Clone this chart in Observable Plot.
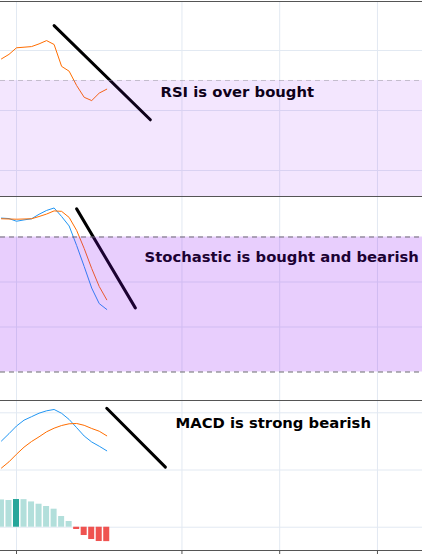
<!DOCTYPE html>
<html><head><meta charset="utf-8">
<script src="https://cdn.jsdelivr.net/npm/d3@7"></script>
<script src="https://cdn.jsdelivr.net/npm/@observablehq/plot@0.6"></script>
<style>
html,body{margin:0;padding:0;background:#fff;overflow:hidden;}
#chart svg{display:block;}
</style></head><body><div id="chart"></div>
<script>
// ---- data ----
const barIndex = [0,1,2,3,4,5,6,7,8,9,10,11,12,13,14];
const rsi    = [77.2,78.7,80.9,81.1,81.3,82.2,83.3,82.0,74.7,73.1,68.3,64.4,63.3,65.8,67.1];
const stochK = [88.4,88.2,87.0,87.6,88.1,90.1,91.8,92.9,89.1,84.9,76.2,66.9,57.3,50.4,47.8];
const stochD = [88.1,88.0,87.9,88.0,88.1,89.1,90.2,91.6,91.4,88.7,82.9,74.9,66.0,58.0,52.1];
const macd   = [1.507,1.635,1.769,1.871,1.932,1.993,2.035,2.058,1.991,1.883,1.740,1.594,1.490,1.416,1.336];
const signal = [1.035,1.143,1.276,1.399,1.498,1.580,1.668,1.731,1.778,1.808,1.813,1.781,1.726,1.678,1.598];
const hist   = [0.477,0.467,0.484,0.482,0.442,0.402,0.362,0.315,0.187,0.100,-0.040,-0.145,-0.215,-0.250,-0.252];

const xTicks = [2, 24, 37, 50];
const xDomain = [-0.128, 55.99];

const rsiDomain = [31.33, 96.33];
const rsiGrid = [40, 60, 80];
const rsiBand = [30, 70];
const rsiTrend = [{x: 7.0, y: 88.3}, {x: 19.8, y: 56.9}];
const rsiNote = [{x: 21.15, y: 66.2, text: "RSI is over bought"}];

const stochDomain = [7.33, 98.0];
const stochGrid = [40, 60];
const stochBand = [20, 80];
const stochTrend = [{x: 10.0, y: 92.5}, {x: 17.8, y: 48.5}];
const stochNote = [{x: 19.02, y: 71.2, text: "Stochastic is bought and bearish"}];

const macdDomain = [-0.407, 2.215];
const macdGrid = [0, 1, 2];
const macdTrend = [{x: 14.0, y: 2.08}, {x: 21.8, y: 1.05}];
const macdNote = [{x: 23.14, y: 1.815, text: "MACD is strong bearish"}];

// ---- styles ----
const gridColor = "#e2e9f2";
const borderColor = "#555";
const blue = "#2196f3";
const orange = "#ff6d00";
const bandColor = "#8c0af7";
const font = "'DejaVu Sans', Verdana, sans-serif";

const series = barIndex.map((i, k) => ({i, rsi: rsi[k], k: stochK[k], d: stochD[k], macd: macd[k], signal: signal[k], h: hist[k],
  color: hist[k] >= 0 ? (k > 0 && hist[k] > hist[k-1] ? "#26a69a" : "#b2dfdb")
                      : (k > 0 && hist[k] > hist[k-1] ? "#ffcdd2" : "#ef5350")}));

const textOpts = {x: "x", y: "y", text: "text", textAnchor: "start", fontWeight: "bold", fontSize: 14.8, fontFamily: font};

function base(height, mt, mb, yDomain) {
  return {width: 422, height, marginLeft: 0, marginRight: 0, marginTop: mt, marginBottom: mb,
    style: {fontFamily: font, background: "#fff"},
    x: {domain: xDomain, axis: null}, y: {domain: yDomain, axis: null}};
}

const p1 = Plot.plot({...base(196, 1, 0, rsiDomain), marks: [
  Plot.ruleY(rsiGrid, {stroke: gridColor}),
  Plot.ruleX(xTicks, {stroke: gridColor}),
  Plot.line(series, {x: "i", y: "rsi", stroke: orange, strokeWidth: 1}),
  Plot.line(rsiTrend, {x: "x", y: "y", stroke: "#000", strokeWidth: 3}),
  Plot.text(rsiNote, textOpts),
  Plot.rect([rsiBand], {x1: xDomain[0], x2: xDomain[1], y1: d => d[0], y2: d => d[1], fill: bandColor, fillOpacity: 0.1, clip: true}),
  Plot.ruleY([rsiBand[1]], {stroke: "#8a8a90", strokeOpacity: 0.45, strokeDasharray: "5,4"}),
  Plot.ruleY([rsiDomain[1]], {stroke: borderColor})
]});

const p2 = Plot.plot({...base(204, 0, 0, stochDomain), marks: [
  Plot.ruleY(stochGrid, {stroke: gridColor}),
  Plot.ruleX(xTicks, {stroke: gridColor}),
  Plot.line(series, {x: "i", y: "k", stroke: blue, strokeWidth: 1}),
  Plot.line(series, {x: "i", y: "d", stroke: orange, strokeWidth: 1}),
  Plot.line(stochTrend, {x: "x", y: "y", stroke: "#000", strokeWidth: 3}),
  Plot.text(stochNote, textOpts),
  Plot.rect([stochBand], {x1: xDomain[0], x2: xDomain[1], y1: d => d[0], y2: d => d[1], fill: bandColor, fillOpacity: 0.2, clip: true}),
  Plot.ruleY(stochBand, {stroke: "#6a6870", strokeDasharray: "5,4"}),
  Plot.ruleY([stochDomain[1]], {stroke: borderColor})
]});

const p3 = Plot.plot({...base(154, 0, 4, macdDomain), x: {domain: xDomain}, marks: [
  Plot.ruleY(macdGrid, {stroke: gridColor}),
  Plot.ruleX(xTicks, {stroke: gridColor}),
  Plot.rect(series, {x1: d => d.i - 0.4, x2: d => d.i + 0.4, y1: 0, y2: "h", fill: "color"}),
  Plot.line(series, {x: "i", y: "macd", stroke: blue, strokeWidth: 1}),
  Plot.line(series, {x: "i", y: "signal", stroke: orange, strokeWidth: 1}),
  Plot.line(macdTrend, {x: "x", y: "y", stroke: "#000", strokeWidth: 3}),
  Plot.text(macdNote, textOpts),
  Plot.ruleY([macdDomain[1]], {stroke: borderColor}),
  Plot.ruleY([macdDomain[0]], {stroke: borderColor}),
  Plot.axisX({ticks: xTicks, tickSize: 4, tickFormat: () => "", stroke: borderColor, label: null})
]});

const chart = document.getElementById("chart");
chart.append(p1, p2, p3);
</script></body></html>
